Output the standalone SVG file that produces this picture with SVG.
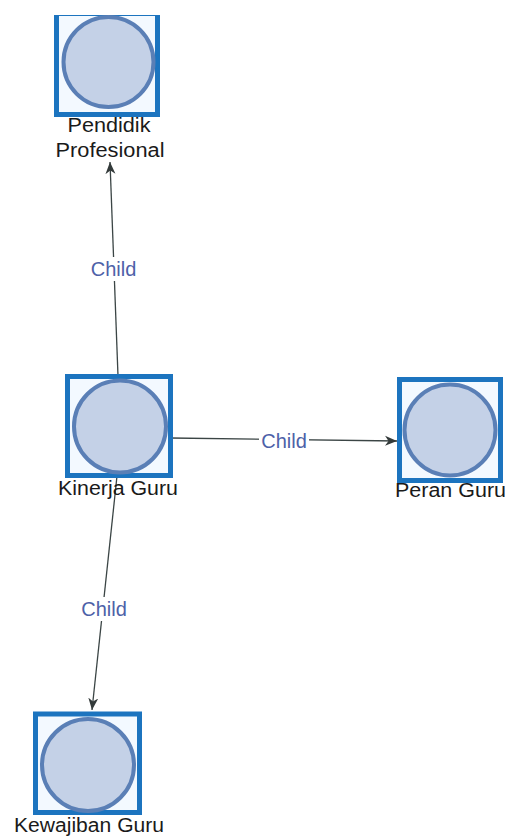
<svg xmlns="http://www.w3.org/2000/svg" width="505" height="836" viewBox="0 0 505 836">
<style>
.box{fill:#f3f9ff;stroke:#1c74bf;stroke-width:5}
.dot{fill:#c4d1e7;stroke:#5a7fb6;stroke-width:4}
.lbl{font-family:"Liberation Sans",Arial,sans-serif;font-size:20px;fill:#1a1a1a;text-anchor:middle}
.edge{stroke:#3b4545;stroke-width:1.3;fill:none}
.elbl{font-family:"Liberation Sans",Arial,sans-serif;font-size:20px;fill:#4d61a8;text-anchor:middle}
.bg{fill:#ffffff}
</style>
<defs>
<marker id="arr" markerWidth="13" markerHeight="11" refX="12" refY="5.5" orient="auto" markerUnits="userSpaceOnUse">
<path d="M0,0.5 L12,5.5 L0,10.5 L3.5,5.5 z" fill="#333a3a"/>
</marker>
<clipPath id="clipTop"><rect x="0" y="15" width="505" height="200"/></clipPath>
</defs>
<rect width="505" height="836" fill="#ffffff"/>
<g id="connectors">
<line class="edge" x1="118" y1="376" x2="110" y2="162" marker-end="url(#arr)"/>
<line class="edge" x1="170.5" y1="438" x2="397" y2="441" marker-end="url(#arr)"/>
<line class="edge" x1="117" y1="476" x2="92" y2="710" marker-end="url(#arr)"/>
<rect class="bg" x="89" y="257" width="49" height="24"/>
<text class="elbl" x="113.5" y="276">Child</text>
<rect class="bg" x="259" y="429" width="50" height="22"/>
<text class="elbl" x="284" y="448">Child</text>
<rect class="bg" x="79" y="597" width="50" height="24"/>
<text class="elbl" x="104" y="616">Child</text>
</g>
<g id="node-pendidik">
<rect class="box" x="56.5" y="13.5" width="101" height="101" clip-path="url(#clipTop)"/>
<circle class="dot" cx="108.5" cy="62" r="45"/>
<text class="lbl" x="109" y="132" textLength="83" lengthAdjust="spacingAndGlyphs">Pendidik</text>
<text class="lbl" x="110" y="157" textLength="109" lengthAdjust="spacingAndGlyphs">Profesional</text>
</g>
<g id="node-kinerja">
<rect class="box" x="67.5" y="376.5" width="103" height="99"/>
<circle class="dot" cx="120" cy="426.5" r="46"/>
<text class="lbl" x="118" y="495" textLength="120" lengthAdjust="spacingAndGlyphs">Kinerja Guru</text>
</g>
<g id="node-peran">
<rect class="box" x="399.5" y="379.5" width="101" height="101"/>
<circle class="dot" cx="450" cy="430" r="45.5"/>
<text class="lbl" x="450.5" y="497" textLength="111" lengthAdjust="spacingAndGlyphs">Peran Guru</text>
</g>
<g id="node-kewajiban">
<rect class="box" x="35.5" y="714" width="104" height="98.5"/>
<circle class="dot" cx="88" cy="765" r="46"/>
<text class="lbl" x="89" y="832" textLength="150" lengthAdjust="spacingAndGlyphs">Kewajiban Guru</text>
</g>
</svg>
